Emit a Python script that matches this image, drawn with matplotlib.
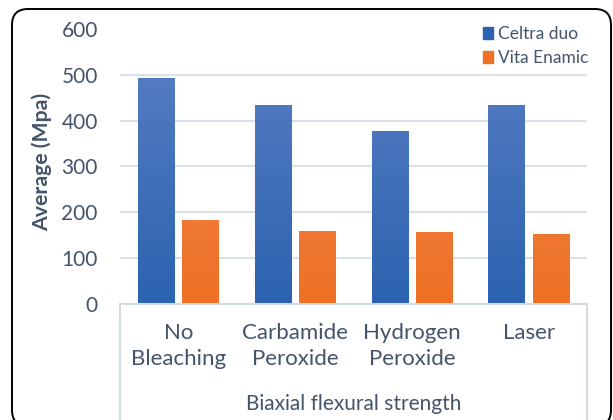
import numpy as np
import matplotlib.pyplot as plt
from matplotlib.colors import LinearSegmentedColormap
from matplotlib.patches import FancyBboxPatch, Patch

plt.rcParams['font.family'] = ['Lato', 'DejaVu Sans']

categories = ["No\nBleaching", "Carbamide\nPeroxide", "Hydrogen\nPeroxide", "Laser"]
celtra_duo = [494, 435, 378, 435]
vita_enamic = [182, 158, 156, 152]
y_ticks = [0, 100, 200, 300, 400, 500, 600]

text_col = "#44546a"
grid_col = "#d9e0e9"
blue_top, blue_bot = "#5b80c4", "#2c63b0"
orange_top, orange_bot = "#f28c5c", "#ee7024"

fig = plt.figure(figsize=(6.13, 4.2), dpi=100)
ax = fig.add_axes([120 / 613, 1 - 303.5 / 420, 467 / 613, 274 / 420])

x = np.arange(len(categories))
w = 0.31
off = 0.19


def gradient_bars(xs, vals, top, bot):
    bars = ax.bar(xs, vals, w, color=bot, zorder=2)
    cmap = LinearSegmentedColormap.from_list("g", [bot, top])
    grad = np.linspace(0, 1, 256).reshape(-1, 1)
    for b in bars:
        x0 = b.get_x()
        im = ax.imshow(grad, cmap=cmap, origin="lower", aspect="auto",
                       extent=[x0, x0 + b.get_width(), 0, 600], zorder=3)
        im.set_clip_path(b)
    return bars


gradient_bars(x - off, celtra_duo, blue_top, blue_bot)
gradient_bars(x + off, vita_enamic, orange_top, orange_bot)

ax.set_xlim(-0.5, 3.5)
ax.set_ylim(0, 600)
ax.set_yticks(y_ticks)
ax.yaxis.grid(True, color=grid_col, linewidth=1.5, zorder=0)
ax.set_axisbelow(True)
for s in ax.spines.values():
    s.set_visible(False)
ax.tick_params(axis="y", length=0, pad=16, labelsize=15, labelcolor=text_col)
ax.set_xticks(x)
ax.set_xticklabels(categories, fontsize=16, color=text_col, linespacing=1.38)
ax.tick_params(axis="x", length=0, pad=14)

# table-like box under the axis
kw = dict(transform=ax.transAxes, clip_on=False, color="#d3dbe5", linewidth=1.5)
ax.plot([0, 1], [0, 0], **kw)
ax.plot([0, 0], [0, -0.5], **kw)
ax.plot([1, 1], [0, -0.5], **kw)

fig.text(353.5 / 613, 16 / 420, "Biaxial flexural strength", ha="center",
         va="center", fontsize=15, color=text_col)
fig.text(42 / 613, 1 - 162 / 420, "Average (Mpa)", rotation=90, ha="center",
         va="center", fontsize=15.3, fontweight="bold", color=text_col)

handles = [Patch(color=blue_bot), Patch(color=orange_bot)]
ax.legend(handles, ["Celtra duo", "Vita Enamic"], loc="upper left",
          bbox_to_anchor=(481 / 613, 1 - 24 / 420), bbox_transform=fig.transFigure,
          fontsize=12.5, labelcolor=text_col, handlelength=0.6, handleheight=0.7,
          handletextpad=0.3, labelspacing=0.5, borderpad=0.1, borderaxespad=0,
          frameon=True, facecolor="white", edgecolor="none", framealpha=1)

fig.patches.append(FancyBboxPatch((0.12, -0.06), 5.99, 4.17,
                                  boxstyle="round,pad=0,rounding_size=0.16",
                                  transform=fig.dpi_scale_trans, fill=False,
                                  edgecolor="black", linewidth=1.4))

fig.savefig("out.png", dpi=100)
